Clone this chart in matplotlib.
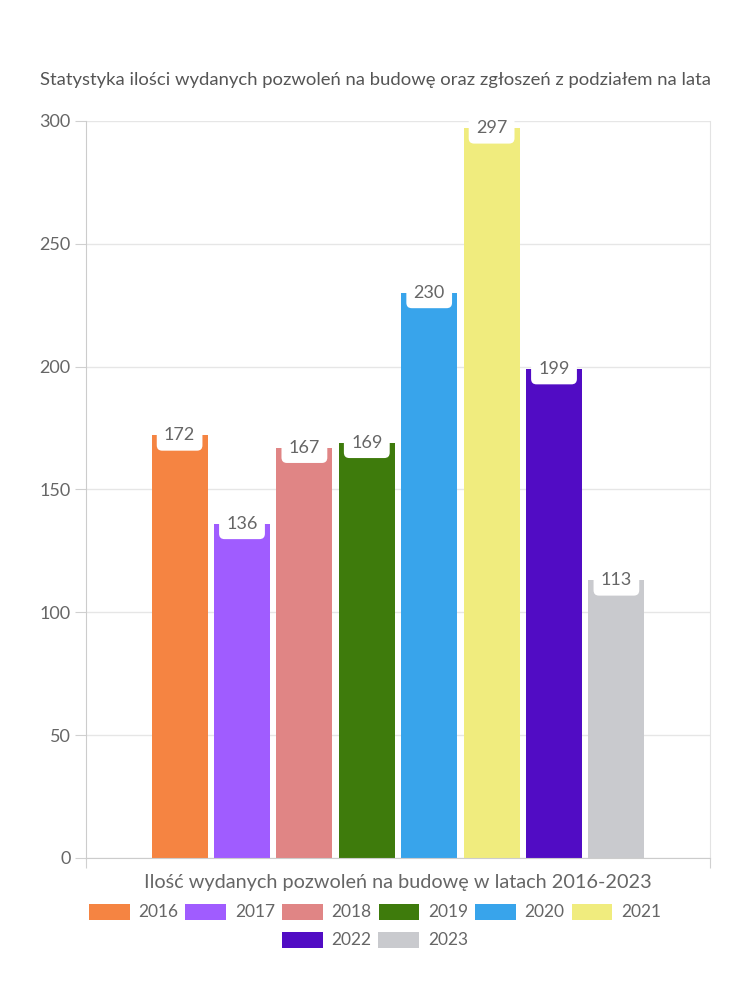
import matplotlib
matplotlib.use("Agg")
import matplotlib.pyplot as plt
from matplotlib.patches import Patch

years = ["2016", "2017", "2018", "2019", "2020", "2021", "2022", "2023"]
values = [172, 136, 167, 169, 230, 297, 199, 113]
colors = ["#F58442", "#A05CFF", "#E08585", "#3E7B0C", "#38A4EB", "#F0EC7E", "#510CC4", "#C9CACE"]
yticks = [0, 50, 100, 150, 200, 250, 300]
title = "Statystyka ilości wydanych pozwoleń na budowę oraz zgłoszeń z podziałem na lata"
xlabel = "Ilość wydanych pozwoleń na budowę w latach 2016-2023"

plt.rcParams['font.family'] = ['Lato', 'DejaVu Sans']
txt = "#666666"

fig = plt.figure(figsize=(7.5, 10), dpi=100)
ax = fig.add_axes([86/750, 1-858/1000, (710-86)/750, (858-121)/1000])

n = len(values)
pitch = 0.1
for i, (v, c) in enumerate(zip(values, colors)):
    x = (i - (n - 1) / 2) * pitch
    ax.bar(x, v, width=0.09, color=c, zorder=2)
    ax.text(x, v, str(v), ha='center', va='center', fontsize=13, color=txt, zorder=4,
            bbox=dict(boxstyle='round,pad=0.4,rounding_size=0.3', fc='white', ec='none'))

ax.set_xlim(-0.5, 0.5)
ax.set_ylim(0, 300)
ax.set_yticks(yticks)
ax.set_yticklabels([str(t) for t in yticks], fontsize=13, color=txt)
ax.set_xticks([-0.5, 0.5])
ax.set_xticklabels(["", ""])
ax.tick_params(axis='y', length=8, color="#d0d0d0", pad=3)
ax.tick_params(axis='x', length=7, color="#d0d0d0")
ax.grid(axis='y', color="#e6e6e6", lw=1, zorder=0)
ax.set_axisbelow(True)
for s in ['left', 'bottom']:
    ax.spines[s].set_color("#cccccc")
for s in ['right']:
    ax.spines[s].set_color("#e3e3e3")
ax.spines['top'].set_visible(False)

ax.set_xlabel(xlabel, fontsize=14.3, color=txt, labelpad=1)
fig.text(0.5, 1 - 80/1000, title, ha='center', va='center', fontsize=13.3, color="#555555")

handles = [Patch(facecolor=c, edgecolor='none', label=y) for y, c in zip(years, colors)]
kw = dict(loc='center', frameon=False, fontsize=12.5, handlelength=2.35, handleheight=1.05,
          handletextpad=0.5, columnspacing=0.4, labelcolor=txt)
fig.legend(handles=handles[:6], ncol=6, bbox_to_anchor=(0.5, 1 - 912/1000), **kw)
fig.legend(handles=handles[6:], ncol=2, bbox_to_anchor=(0.5, 1 - 940/1000), **kw)

fig.savefig("out.png", dpi=100, facecolor='white')
